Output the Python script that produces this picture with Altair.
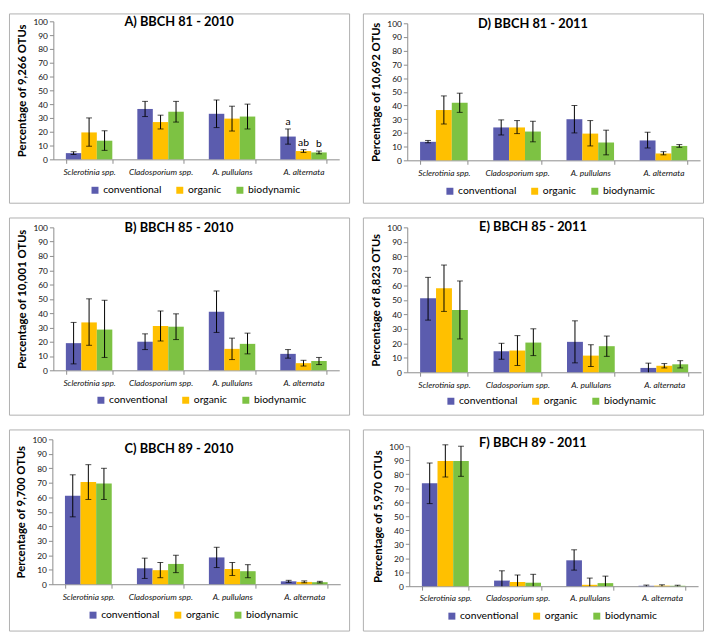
import altair as alt
import pandas as pd

categories = ["Sclerotinia spp.", "Cladosporium spp.", "A. pullulans", "A. alternata"]
treatments = ["conventional", "organic", "biodynamic"]
colors = ["#5B5CAE", "#FFC000", "#7DC243"]

# values ordered: category by category, treatments conventional/organic/biodynamic
A_mean = [4.5, 19.5, 13.5, 36.5, 27, 34.5, 33, 29.5, 31, 16.5, 6, 5]
A_low = [3.5, 9.5, 6.5, 31, 22, 27, 23, 20.5, 22, 11, 5, 4]
A_high = [5.5, 30, 20.7, 42, 32, 42, 43, 38.5, 40, 22, 7, 6]
A_letters = ["", "", "", "", "", "", "", "", "", "a", "ab", "b"]

D_mean = [13.5, 36.7, 42, 24, 24, 21, 30, 19.5, 13, 14.5, 5, 10.5]
D_low = [12.8, 26.5, 35, 18.5, 19.5, 13.5, 20, 10.5, 4, 9, 4, 9.5]
D_high = [14.5, 47, 49, 29.5, 29, 28.5, 40, 29, 22, 20.5, 6.3, 11.5]

B_mean = [19, 33.5, 28.5, 20, 31, 30.5, 41, 15, 18.5, 11.5, 5, 6.5]
B_low = [4.5, 17.5, 9, 14.5, 20.5, 21.5, 26.5, 7.5, 11.5, 8.5, 3, 4]
B_high = [33.5, 50, 49, 25.5, 41.5, 39.5, 55.5, 22.5, 26, 14.5, 7, 9]

E_mean = [51, 58, 43, 14.5, 15, 20.5, 21, 11.5, 18, 3, 4.5, 5.5]
E_low = [36, 42, 23, 9, 4.7, 11.5, 6.5, 4, 11, 0, 3, 3]
E_high = [65.5, 74, 63, 20, 25.3, 30, 35.5, 19, 25, 6.3, 6, 8]

C_mean = [61, 70.5, 69.5, 11, 9.7, 14, 18.5, 10.5, 9, 2, 1.6, 1.4]
C_low = [46.5, 58.5, 58.5, 4, 4.5, 8, 11.5, 6, 4.5, 1.3, 1, 0.9]
C_high = [75.5, 82.5, 80, 18, 15, 20, 25.5, 15, 13.5, 2.7, 2.3, 2]

F_mean = [73.5, 89.5, 89.5, 4, 3, 2.5, 18.5, 1, 2.2, 0.3, 0.4, 0.3]
F_low = [59, 78, 78.5, 0, 0, 0, 11.5, 0, 0, 0, 0, 0]
F_high = [88, 101, 100, 11, 8, 8.5, 26, 5.8, 7.2, 0.8, 1, 0.7]

FONT = "Lato"
W = 345


def panel(title, ytitle, mean, low, high, letters, H, xr, yr, leg_x, leg_y, title_dy):
    rows = []
    for i, c in enumerate(categories):
        for j, t in enumerate(treatments):
            k = i * 3 + j
            rows.append(dict(cat=c, trt=t, mean=mean[k], low=low[k], high=high[k],
                             letter=letters[k] if letters else ""))
    df = pd.DataFrame(rows)
    base = alt.Chart(df)

    def X():
        return alt.X("cat:N", sort=categories,
                     scale=alt.Scale(range=xr, paddingInner=0.35, paddingOuter=0.175),
                     axis=alt.Axis(title=None, orient="bottom", offset=-(H - yr[0]), labelAngle=0,
                                   tickBand="extent", labelFont=FONT, labelFontStyle="italic",
                                   labelFontSize=8.5, labelColor="#111", domainColor="#8c8c8c",
                                   tickColor="#8c8c8c", tickSize=4, labelPadding=4))

    def XO():
        return alt.XOffset("trt:N", sort=treatments,
                           scale=alt.Scale(domain=treatments, paddingInner=0, paddingOuter=0))

    def Y(field):
        return alt.Y(field, type="quantitative",
                     scale=alt.Scale(domain=[0, 100], range=yr, nice=False, zero=True),
                     axis=alt.Axis(values=list(range(0, 101, 10)), orient="left", offset=-xr[0],
                                   title=ytitle, titleFont=FONT, titleFontWeight="bold",
                                   titleFontSize=11.5, titleColor="black", titlePadding=5,
                                   labelFont=FONT, labelFontSize=8.5, labelColor="#111",
                                   grid=False, domainColor="#8c8c8c", tickColor="#8c8c8c",
                                   tickSize=4, labelPadding=2))

    bars = base.mark_bar().encode(
        x=X(), xOffset=XO(), y=Y("mean"),
        color=alt.Color("trt:N", sort=treatments,
                        scale=alt.Scale(domain=treatments, range=colors),
                        legend=alt.Legend(title=None, orient="none", legendX=leg_x, legendY=leg_y,
                                          direction="horizontal", symbolType="square",
                                          symbolSize=50, symbolStrokeWidth=0, labelFont=FONT,
                                          labelFontSize=10.5, labelColor="black", labelOffset=3,
                                          columnPadding=13)),
    )
    rules = base.mark_rule(color="black", strokeWidth=1).encode(
        x=X(), xOffset=XO(), y=Y("low"), y2="high")
    caps_hi = base.mark_tick(color="black", thickness=1, size=6).encode(
        x=X(), xOffset=XO(), y=Y("high"))
    caps_lo = base.transform_filter("datum.low > 0").mark_tick(
        color="black", thickness=1, size=6).encode(x=X(), xOffset=XO(), y=Y("low"))
    layers = [bars, rules, caps_hi, caps_lo]
    if letters:
        txt = base.transform_filter("datum.letter != ''").mark_text(
            dy=-7, font=FONT, fontSize=10.5, color="black").encode(
            x=X(), xOffset=XO(), y=Y("high"), text="letter:N")
        layers.append(txt)
    return alt.layer(*layers).properties(
        width=W, height=H,
        title=alt.TitleParams(title, anchor="middle", font=FONT, fontSize=13, fontWeight="bold",
                              color="black", dy=title_dy),
    )


pA = panel("A) BBCH 81 - 2010", "Percentage of 9,266 OTUs", A_mean, A_low, A_high, A_letters,
           192, [45, 335], [148, 8], 82, 174, 20)
pD = panel("D) BBCH 81 - 2011", "Percentage of 10,692 OTUs", D_mean, D_low, D_high, None,
           192, [45, 342], [149, 10], 83, 175, 22)
pB = panel("B) BBCH 85 - 2010", "Percentage of 10,001 OTUs", B_mean, B_low, B_high, None,
           200, [45, 335], [155, 10], 88, 180, 22)
pE = panel("E) BBCH 85 - 2011", "Percentage of 8,823 OTUs", E_mean, E_low, E_high, None,
           200, [45, 343], [157, 10], 84, 181, 21)
pC = panel("C) BBCH 89 - 2010", "Percentage of 9,700 OTUs", C_mean, C_low, C_high, None,
           204, [44, 336], [157, 10], 80, 183, 31)
pF = panel("F) BBCH 89 - 2011", "Percentage of 5,970 OTUs", F_mean, F_low, F_high, None,
           204, [47, 340], [159, 17], 85, 184, 25)


def row(a, b):
    return alt.hconcat(a, b, spacing=12).resolve_scale(
        color="independent", xOffset="independent").resolve_legend(color="independent")


chart = alt.vconcat(row(pA, pD), row(pB, pE), row(pC, pF), spacing=13).resolve_scale(
    color="independent", xOffset="independent").resolve_legend(color="independent").properties(
    padding=0, background="white"
).configure_view(stroke="#b0b0b0", strokeWidth=1).configure_concat(spacing=12)

chart.save("out.html", embed_options={"renderer": "svg", "actions": False})
